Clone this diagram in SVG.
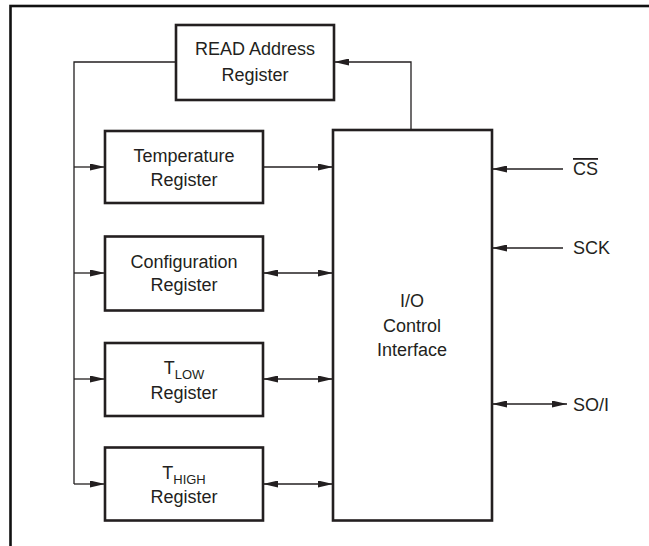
<svg xmlns="http://www.w3.org/2000/svg" width="649" height="546" viewBox="0 0 649 546">
<style>
.box{fill:#fff;stroke:#231f20;stroke-width:2.6}
.ln{fill:none;stroke:#231f20;stroke-width:1.3}
text{font-family:"Liberation Sans",Arial,sans-serif;font-size:18px;fill:#231f20}
.c{text-anchor:middle}
.sub{font-size:13px}
</style>
<defs>
<marker id="ah" markerWidth="15" markerHeight="7" refX="15" refY="3.5" orient="auto-start-reverse" markerUnits="userSpaceOnUse">
<path d="M0,0 L15,3.5 L0,7 Z" fill="#231f20"/>
</marker>
</defs>
<rect x="10.5" y="6" width="700" height="600" fill="none" stroke="#111" stroke-width="2.6"/>
<g id="connectors">
<path class="ln" d="M176,62 H74 V484"/>
<line class="ln" x1="74" y1="167" x2="105" y2="167" marker-end="url(#ah)"/>
<line class="ln" x1="74" y1="273" x2="105" y2="273" marker-end="url(#ah)"/>
<line class="ln" x1="74" y1="379" x2="105" y2="379" marker-end="url(#ah)"/>
<line class="ln" x1="74" y1="484" x2="105" y2="484" marker-end="url(#ah)"/>
<line class="ln" x1="263" y1="167" x2="333" y2="167" marker-end="url(#ah)"/>
<line class="ln" x1="263" y1="273" x2="333" y2="273" marker-start="url(#ah)" marker-end="url(#ah)"/>
<line class="ln" x1="263" y1="379" x2="333" y2="379" marker-start="url(#ah)" marker-end="url(#ah)"/>
<line class="ln" x1="263" y1="484" x2="333" y2="484" marker-start="url(#ah)" marker-end="url(#ah)"/>
<path class="ln" d="M411,130 V62 H334" marker-end="url(#ah)"/>
<line class="ln" x1="563" y1="169" x2="492" y2="169" marker-end="url(#ah)"/>
<line class="ln" x1="563" y1="248" x2="492" y2="248" marker-end="url(#ah)"/>
<line class="ln" x1="492" y1="404" x2="567" y2="404" marker-start="url(#ah)" marker-end="url(#ah)"/>
</g>
<g id="read-address">
<rect class="box" x="176" y="25" width="158" height="75"/>
<text class="c" x="255" y="55">READ Address</text>
<text class="c" x="255" y="81">Register</text>
</g>
<g id="temperature">
<rect class="box" x="105" y="131" width="158" height="72"/>
<text class="c" x="184" y="161.5">Temperature</text>
<text class="c" x="184" y="185.5">Register</text>
</g>
<g id="configuration">
<rect class="box" x="105" y="236.5" width="158" height="74"/>
<text class="c" x="184" y="267.5">Configuration</text>
<text class="c" x="184" y="290.5">Register</text>
</g>
<g id="tlow">
<rect class="box" x="105" y="343" width="158" height="73"/>
<text class="c" x="184" y="373.5">T<tspan class="sub" dy="5">LOW</tspan></text>
<text class="c" x="184" y="398.5">Register</text>
</g>
<g id="thigh">
<rect class="box" x="105" y="447.5" width="158" height="73"/>
<text class="c" x="184" y="478.5">T<tspan class="sub" dy="5">HIGH</tspan></text>
<text class="c" x="184" y="502.5">Register</text>
</g>
<g id="io-control">
<rect class="box" x="333" y="130" width="159" height="390.5"/>
<text class="c" x="412" y="306.5">I/O</text>
<text class="c" x="412" y="331.5">Control</text>
<text class="c" x="412" y="355.5">Interface</text>
</g>
<g id="cs"><text x="573" y="175" text-decoration="overline">CS</text></g>
<g id="sck"><text x="573" y="254">SCK</text></g>
<g id="soi"><text x="573" y="411">SO/I</text></g>
</svg>
